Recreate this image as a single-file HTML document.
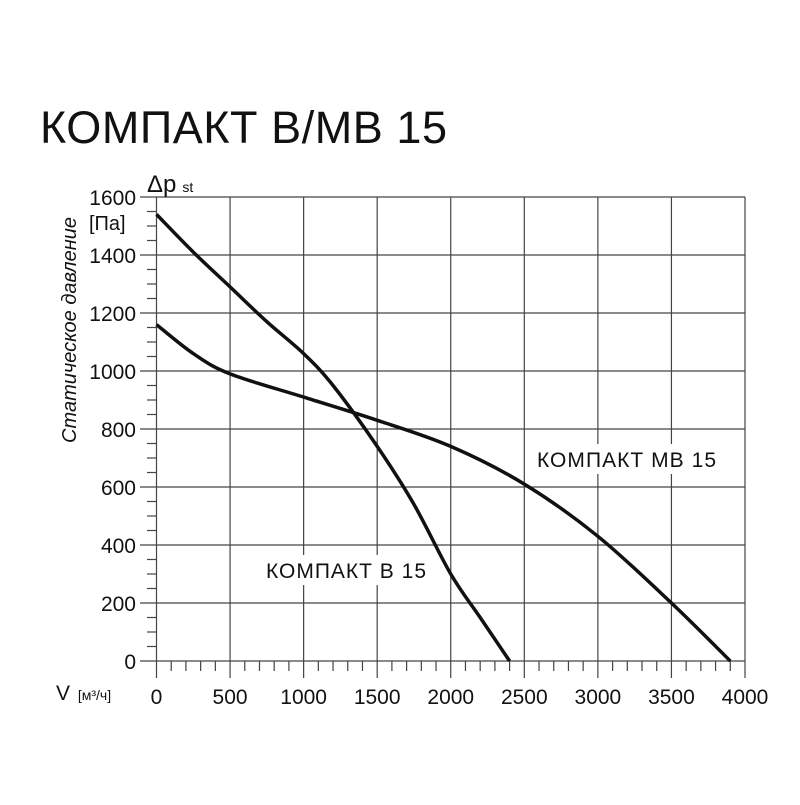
<!DOCTYPE html>
<html><head><meta charset="utf-8"><style>
body{margin:0;background:#fff;width:800px;height:800px;overflow:hidden;font-family:"Liberation Sans",sans-serif}
</style></head><body>
<svg width="800" height="800" id="chart" font-family="Liberation Sans, sans-serif">
<text x="40" y="143" font-size="45" textLength="407" fill="#111">КОМПАКТ В/МВ 15</text>
<g id="grid"></g>
<rect x="532" y="444" width="190" height="30" fill="#fff"/>
<rect x="262" y="555" width="168" height="30" fill="#fff"/>
<g id="curves"></g>
<text x="147" y="192" font-size="24" fill="#111">Δp<tspan font-size="14" dx="6">st</tspan></text>
<text x="89" y="230" font-size="20" fill="#111">[Па]</text>
<text transform="translate(76,330) rotate(-90)" font-size="20" font-style="italic" fill="#111" text-anchor="middle" x="0" y="0">Статическое давление</text>
<text x="56" y="700" font-size="21" fill="#111">V <tspan font-size="14" dx="2">[м³/ч]</tspan></text>
<text x="537" y="467" font-size="21" fill="#111" textLength="179">КОМПАКТ МВ 15</text>
<text x="266" y="578" font-size="21" fill="#111" textLength="160">КОМПАКТ В 15</text>
</svg>
<script>
const xTicks=[0,500,1000,1500,2000,2500,3000,3500,4000];
const yTicks=[0,200,400,600,800,1000,1200,1400,1600];
const b15X=[0,250,500,750,1000,1200,1500,1750,2000,2200,2400];
const b15Y=[1540,1410,1290,1170,1060,950,740,540,300,150,0];
const mb15X=[0,250,500,1000,1500,2000,2500,3000,3500,3900];
const mb15Y=[1160,1060,990,910,830,740,610,430,200,0];
const X0=156.5,X1=745,Y0=661,Y1=197;
const sx=v=>X0+(X1-X0)*v/4000, sy=v=>Y0-(Y0-Y1)*v/1600;
const NS="http://www.w3.org/2000/svg";
const grid=document.getElementById('grid'),curves=document.getElementById('curves');
function ln(p,x1,y1,x2,y2,w,c){const l=document.createElementNS(NS,'line');l.setAttribute('x1',x1);l.setAttribute('y1',y1);l.setAttribute('x2',x2);l.setAttribute('y2',y2);l.setAttribute('stroke',c);l.setAttribute('stroke-width',w);p.appendChild(l);return l;}
function tx(p,x,y,s,a){const t=document.createElementNS(NS,'text');t.setAttribute('x',x);t.setAttribute('y',y);t.setAttribute('font-size',21);t.setAttribute('fill','#111');t.setAttribute('text-anchor',a);t.textContent=s;p.appendChild(t);return t;}
yTicks.forEach(v=>{const l=ln(grid,140,sy(v),X1,sy(v),1.2,'#444');


const t=tx(grid,136,sy(v)+8,String(v),'end');

});
for(let v=50;v<1600;v+=50){if(v%200)ln(grid,147,sy(v),X0,sy(v),1.2,'#444');}
xTicks.forEach(v=>{const l=ln(grid,sx(v),Y1,sx(v),678,1.2,'#444');


const t=tx(grid,sx(v),704,String(v),'middle');

});
for(let v=100;v<4000;v+=100){if(v%500)ln(grid,sx(v),Y0,sx(v),671,1.2,'#444');}
function path(xs,ys){const p=xs.map((x,i)=>[sx(x),sy(ys[i])]);let d='M'+p[0][0]+','+p[0][1];
for(let i=0;i<p.length-1;i++){const a=p[Math.max(i-1,0)],b=p[i],c=p[i+1],e=p[Math.min(i+2,p.length-1)];
d+=` C${b[0]+(c[0]-a[0])/6},${b[1]+(c[1]-a[1])/6} ${c[0]-(e[0]-b[0])/6},${c[1]-(e[1]-b[1])/6} ${c[0]},${c[1]}`;}
const el=document.createElementNS(NS,'path');el.setAttribute('d',d);el.setAttribute('fill','none');el.setAttribute('stroke','#111');el.setAttribute('stroke-width',3.5);curves.appendChild(el);return el;}
const c1=path(b15X,b15Y);


const c2=path(mb15X,mb15Y);


</script>
</body></html>
